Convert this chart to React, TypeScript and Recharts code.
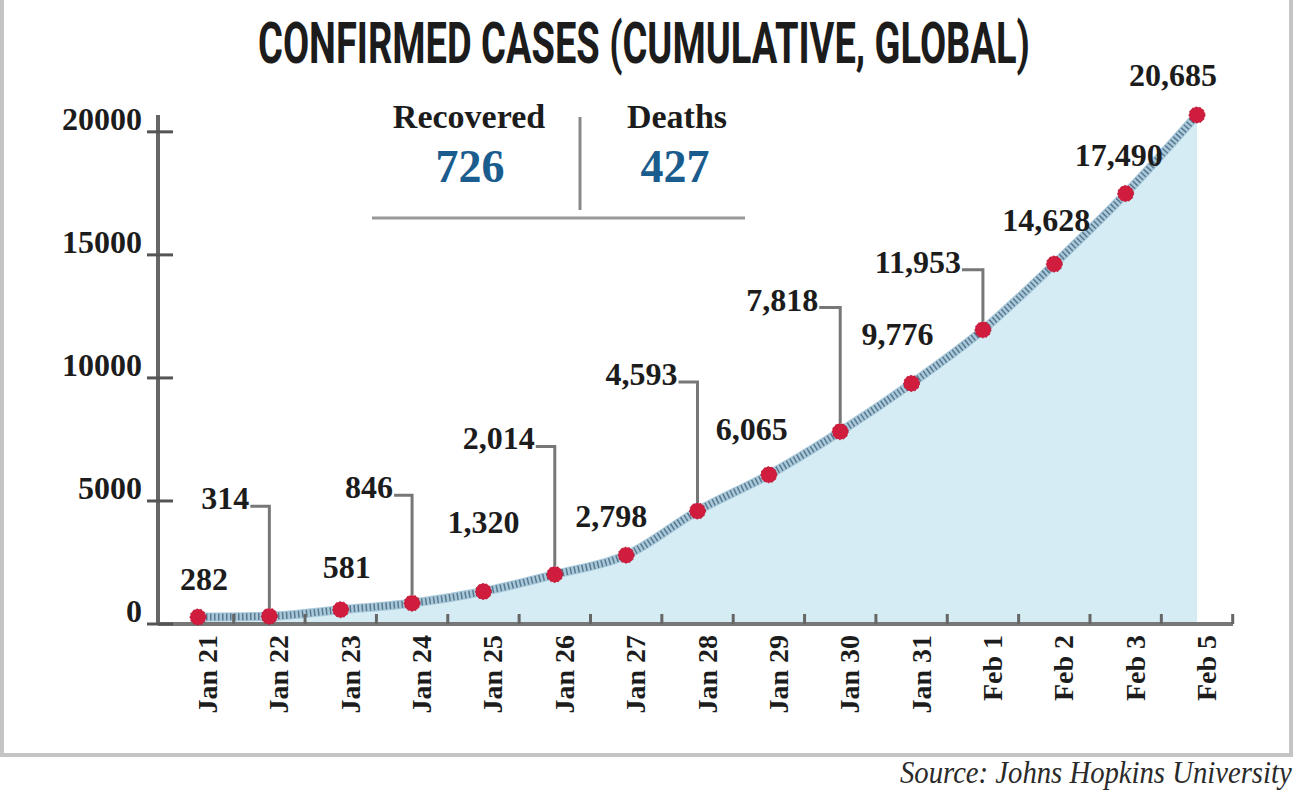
import React, { useLayoutEffect, useRef, useState } from "react";
import { ComposedChart, Area, Line, XAxis, YAxis, LabelList } from "recharts";

const dates = [
  "Jan 21", "Jan 22", "Jan 23", "Jan 24", "Jan 25", "Jan 26", "Jan 27", "Jan 28",
  "Jan 29", "Jan 30", "Jan 31", "Feb 1", "Feb 2", "Feb 3", "Feb 5",
];
const confirmed = [282, 314, 581, 846, 1320, 2014, 2798, 4593, 6065, 7818, 9776, 11953, 14628, 17490, 20685];
const yTicks = [0, 5000, 10000, 15000, 20000];
const recovered = 726;
const deaths = 427;

// where each value label sits relative to its dot
const labelDx = [6, -20, 6, -19, 0, -20, -15, -20, -17, -22, -14, -22, -8, -7, -24];
const labelLift = [27, 110, 32, 108, 59, 128, 28, 129, 35, 124, 38, 60, 33, 28, 29];
const hasLeader = [false, true, false, true, false, true, false, true, false, true, false, true, false, false, false];

const data = dates.map((date, i) => ({ date, cases: confirmed[i] }));

const SERIF = "'Liberation Serif', 'DejaVu Serif', serif";
const INK = "#1c1c1c";

const fmt = (v: number) => v.toLocaleString("en-US");

// squeeze a text horizontally so it fills a given width (condensed look)
const FitText = ({ x, y, width, children, ...rest }: any) => {
  const ref = useRef<SVGTextElement>(null);
  const [sx, setSx] = useState(1);
  useLayoutEffect(() => {
    if (ref.current) {
      const w = ref.current.getComputedTextLength();
      if (w > 0) setSx(width / w);
    }
  }, [width]);
  return (
    <g transform={`translate(${x},${y}) scale(${sx},1)`}>
      <text ref={ref} x={0} y={0} {...rest}>
        {children}
      </text>
    </g>
  );
};

const YTick = (props: any) => {
  const { x, y, payload } = props;
  return (
    <g>
      <line x1={x - 11} x2={x + 15} y1={y} y2={y} stroke="#555" strokeWidth={3} />
      <text x={x - 16} y={y - 2} textAnchor="end" fontFamily={SERIF} fontWeight={700} fontSize={32} fill={INK}>
        {payload.value}
      </text>
    </g>
  );
};

const XTick = (props: any) => {
  const { x, y, payload } = props;
  // ticks sit halfway between the points
  const half = payload && payload.offset ? payload.offset : 35.7;
  return (
    <g>
      <line x1={x + half} x2={x + half} y1={y} y2={y - 10} stroke="#666" strokeWidth={3} />
      <text
        transform={`translate(${x + 19},${y + 11}) rotate(-90)`}
        textAnchor="end"
        fontFamily={SERIF}
        fontWeight={700}
        fontSize={28}
        fill={INK}
      >
        {payload.value}
      </text>
    </g>
  );
};

const ValueLabel = (props: any) => {
  const { x, y, value } = props;
  let i = props.index;
  if (i === undefined) i = confirmed.indexOf(Number(value));
  const lift = labelLift[i];
  const dx = labelDx[i];
  if (hasLeader[i]) {
    const ly = y - lift;
    return (
      <g>
        <path d={`M${x + dx + 1},${ly} H${x} V${y - 8}`} fill="none" stroke="#777" strokeWidth={3} />
        <text x={x + dx} y={ly + 3} textAnchor="end" fontFamily={SERIF} fontWeight={700} fontSize={32} fill={INK}>
          {fmt(value)}
        </text>
      </g>
    );
  }
  return (
    <text x={x + dx} y={y - lift} textAnchor="middle" fontFamily={SERIF} fontWeight={700} fontSize={32} fill={INK}>
      {fmt(value)}
    </text>
  );
};

export default function App() {
  return (
    <div style={{ position: "absolute", left: 0, top: 0, width: 1302, height: 797, background: "#fff", overflow: "hidden" }}>
      <div style={{ position: "absolute", left: 0, top: 0 }}>
        <ComposedChart width={1302} height={797} data={data} margin={{ top: 115, right: 69, bottom: 23, left: 0 }}>
          <XAxis
            dataKey="date"
            height={150}
            padding={{ left: 40, right: 36 }}
            axisLine={{ stroke: "#777", strokeWidth: 4 }}
            tickLine={false}
            tickSize={0}
            tickMargin={0}
            interval={0}
            tick={(p: any) => <XTick {...p} />}
          />
          <YAxis
            width={158}
            domain={[0, "dataMax"]}
            ticks={yTicks}
            interval={0}
            axisLine={{ stroke: "#666", strokeWidth: 4 }}
            tickLine={false}
            tickSize={0}
            tickMargin={0}
            tick={(p: any) => <YTick {...p} />}
          />
          <Area type="monotone" dataKey="cases" stroke="none" fill="#d5ecf5" fillOpacity={1} isAnimationActive={false} />
          <Line type="monotone" dataKey="cases" stroke="#a9c9da" strokeWidth={9} dot={false} activeDot={false} isAnimationActive={false} />
          <Line
            type="monotone"
            dataKey="cases"
            stroke="#58788f"
            strokeWidth={7}
            strokeDasharray="1.5 2.5"
            dot={{ r: 8, fill: "#d11d3d", stroke: "#a8102b", strokeWidth: 1 }}
            activeDot={false}
            isAnimationActive={false}
          >
            <LabelList dataKey="cases" content={(p: any) => <ValueLabel {...p} />} />
          </Line>
        </ComposedChart>
      </div>

      <svg width={1302} height={797} style={{ position: "absolute", left: 0, top: 0, pointerEvents: "none" }}>
        {/* frame */}
        <rect x={2} y={-4} width={1289} height={759} fill="none" stroke="#c4c4c4" strokeWidth={4} />

        <FitText
          x={258}
          y={63}
          width={772}
          fontFamily="Roboto, 'Liberation Sans', sans-serif"
          fontWeight={700}
          fontSize={58}
          fill={INK}
        >
          CONFIRMED CASES (CUMULATIVE, GLOBAL)
        </FitText>

        <text x={469} y={128} textAnchor="middle" fontFamily={SERIF} fontWeight={700} fontSize={34} fill={INK}>
          Recovered
        </text>
        <text x={470} y={182} textAnchor="middle" fontFamily={SERIF} fontWeight={700} fontSize={46} fill="#1a5c8e">
          {recovered}
        </text>
        <text x={677} y={128} textAnchor="middle" fontFamily={SERIF} fontWeight={700} fontSize={34} fill={INK}>
          Deaths
        </text>
        <text x={675} y={182} textAnchor="middle" fontFamily={SERIF} fontWeight={700} fontSize={46} fill="#1a5c8e">
          {deaths}
        </text>
        <line x1={580} x2={580} y1={117} y2={210} stroke="#888" strokeWidth={3} />
        <line x1={372} x2={745} y1={218} y2={218} stroke="#999" strokeWidth={3} />

        <FitText x={900} y={783} width={392} fontFamily={SERIF} fontStyle="italic" fontSize={32} fill="#2a2a2a">
          Source: Johns Hopkins University
        </FitText>
      </svg>
    </div>
  );
}
